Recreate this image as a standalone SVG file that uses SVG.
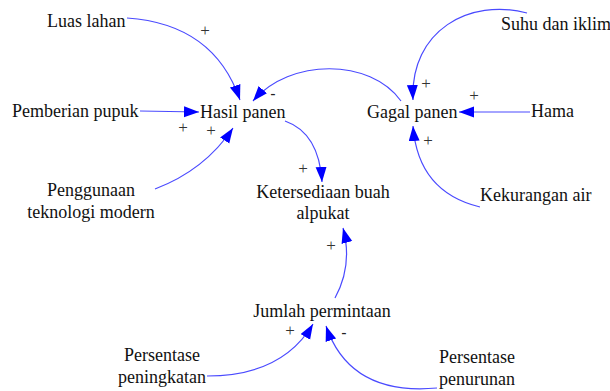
<svg xmlns="http://www.w3.org/2000/svg" width="610" height="391" viewBox="0 0 610 391">
<defs>
<marker id="ah" markerUnits="userSpaceOnUse" markerWidth="16" markerHeight="12" refX="15" refY="5.5" orient="auto">
<path d="M0,0 L15,5.5 L0,11 z" fill="#0000ff"/>
</marker>
<style>
.t{font-family:"Liberation Serif","Times New Roman",serif;font-size:18px;fill:#111}
.m{text-anchor:middle}
.s{font-family:"Liberation Serif","Times New Roman",serif;font-size:17px;fill:#333;text-anchor:middle}
.d{font-family:"Liberation Sans",Arial,sans-serif;font-size:16px;fill:#222;text-anchor:middle}
.c{fill:none;stroke:#4a4aff;stroke-width:1.2;marker-end:url(#ah)}
</style>
</defs>
<rect width="610" height="391" fill="#fff"/>
<g id="connectors">
<path class="c" d="M127,18 Q214,24 240,100"/>
<path class="c" d="M140,111 L199,112"/>
<path class="c" d="M155,189 Q205,170 233,128"/>
<path class="c" d="M401,101 C370,58 290,58 253,101"/>
<path class="c" d="M285,121 Q319,133 322,182"/>
<path class="c" d="M527,13 C470,-2 410,30 413,100"/>
<path class="c" d="M530,112 L459,112"/>
<path class="c" d="M480,207 Q418,192 413,126"/>
<path class="c" d="M335,298 Q353,265 343,228"/>
<path class="c" d="M207,376 Q282,376 313,324"/>
<path class="c" d="M437,388 Q350,396 326,326"/>
</g>
<g id="labels">
<text class="s" x="205" y="36">+</text>
<text class="s" x="183" y="133">+</text>
<text class="s" x="211" y="136">+</text>
<text class="d" x="273" y="99">-</text>
<text class="s" x="303" y="174">+</text>
<text class="s" x="426" y="89">+</text>
<text class="s" x="474" y="101">+</text>
<text class="s" x="428" y="146">+</text>
<text class="s" x="331" y="251">+</text>
<text class="s" x="290" y="336">+</text>
<text class="d" x="344" y="338">-</text>
</g>
<g id="luas-lahan"><text class="t" x="47" y="27">Luas lahan</text></g>
<g id="pemberian-pupuk"><text class="t" x="12" y="117">Pemberian pupuk</text></g>
<g id="hasil-panen"><text class="t" x="200" y="118">Hasil panen</text></g>
<g id="gagal-panen"><text class="t" x="367" y="118">Gagal panen</text></g>
<g id="hama"><text class="t" x="531" y="117">Hama</text></g>
<g id="suhu-dan-iklim"><text class="t" x="501" y="30">Suhu dan iklim</text></g>
<g id="penggunaan-teknologi"><text class="t m" x="91" y="196">Penggunaan</text><text class="t m" x="91" y="218">teknologi modern</text></g>
<g id="ketersediaan"><text class="t m" x="323" y="198">Ketersediaan buah</text><text class="t m" x="323" y="219">alpukat</text></g>
<g id="kekurangan-air"><text class="t" x="480" y="201">Kekurangan air</text></g>
<g id="jumlah-permintaan"><text class="t m" x="322" y="317">Jumlah permintaan</text></g>
<g id="persentase-peningkatan"><text class="t m" x="162" y="361">Persentase</text><text class="t m" x="162" y="383">peningkatan</text></g>
<g id="persentase-penurunan"><text class="t m" x="477" y="363">Persentase</text><text class="t m" x="477" y="385">penurunan</text></g>
</svg>
